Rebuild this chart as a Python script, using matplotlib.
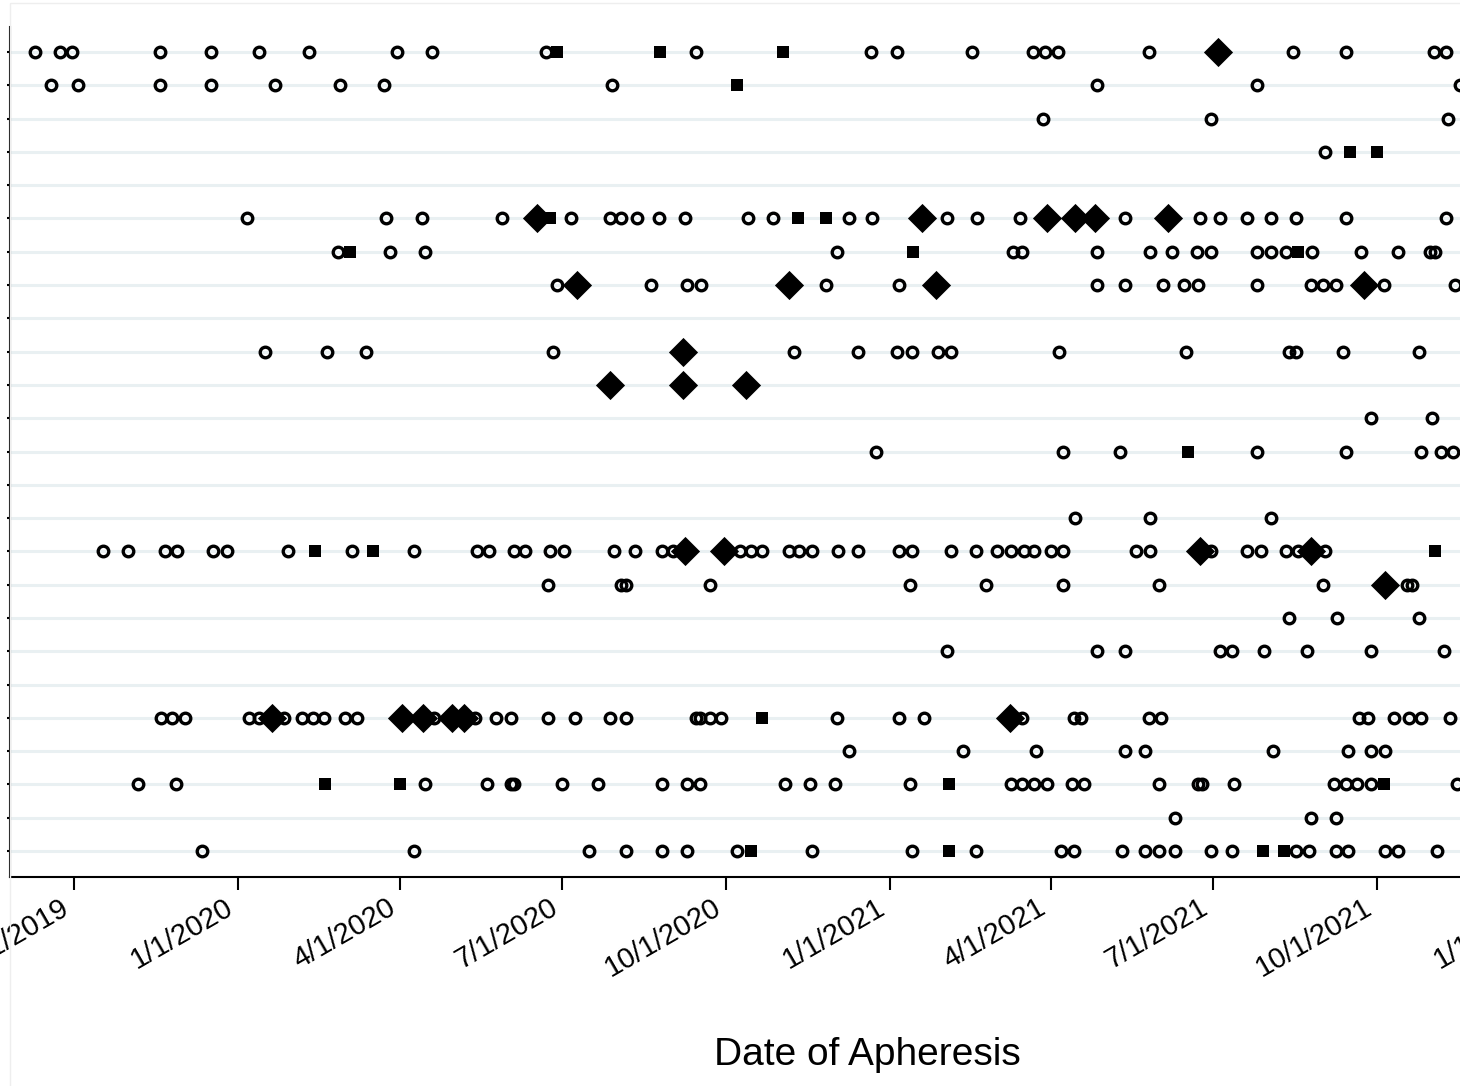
import matplotlib
matplotlib.use("Agg")
import matplotlib.pyplot as plt
from matplotlib.patches import Rectangle
import numpy as np

plt.rcParams["font.family"] = ["Liberation Sans", "DejaVu Sans"]

# dates are stored as days since 1 Jan 2020; one list per row, top to bottom
START = np.datetime64("2020-01-01")

circle_days = [
    [-114, -100, -93, -44, -15, 12, 40, 89, 109, 173, 257, 355, 370, 412, 446, 453, 460, 511, 592, 622, 671, 678],
    [-105, -90, -44, -15, 21, 57, 82, 210, 482, 572, 686],
    [452, 546, 679],
    [610],
    [],
    [5, 83, 103, 148, 187, 209, 215, 224, 236, 251, 286, 300, 343, 356, 398, 415, 439, 498, 540, 551, 566, 580,
     594, 622, 678],
    [56, 85, 105, 336, 435, 440, 482, 512, 524, 538, 546, 572, 580, 588, 603, 630, 651, 669, 672],
    [179, 232, 252, 260, 330, 371, 482, 498, 519, 531, 539, 572, 602, 609, 616, 643, 683],
    [],
    [15, 50, 72, 177, 312, 348, 370, 378, 393, 400, 461, 532, 590, 594, 620, 663],
    [],
    [636, 670],
    [358, 463, 495, 572, 622, 664, 675, 682],
    [],
    [470, 512, 580],
    [-76, -62, -41, -34, -14, -6, 28, 64, 99, 134, 141, 155, 161, 175, 183, 211, 223, 238, 244, 282, 288, 294,
     309, 315, 322, 337, 348, 371, 378, 400, 414, 426, 434, 441, 447, 456, 463, 504, 512, 546, 566, 574, 588,
     595, 610],
    [174, 215, 218, 265, 377, 420, 463, 517, 609, 656, 659],
    [590, 617, 663],
    [398, 482, 498, 551, 558, 576, 600, 636, 677],
    [],
    [-43, -37, -30, 6, 12, 26, 36, 42, 48, 60, 67, 110, 133, 145, 153, 174, 189, 209, 218, 257, 259, 265, 271,
     336, 371, 385, 440, 469, 473, 511, 518, 629, 634, 649, 657, 664, 680],
    [343, 407, 448, 498, 509, 581, 623, 636, 644],
    [-56, -35, 105, 140, 153, 155, 182, 202, 238, 252, 259, 307, 321, 335, 377, 434, 440, 447, 454, 468, 475,
     517, 539, 541, 559, 615, 622, 628, 636, 684],
    [526, 602, 616],
    [-20, 99, 197, 218, 238, 252, 280, 322, 378, 414, 462, 469, 496, 509, 517, 526, 546, 558, 594, 601, 616,
     623, 644, 651, 673],
]

square_days = [
    [179, 237, 306], [280], [], [624, 639], [],
    [175, 314, 330], [63, 379, 595], [], [], [],
    [], [], [533], [], [],
    [43, 76, 672], [], [], [], [],
    [294], [], [49, 91, 399, 643], [], [288, 399, 575, 587],
]

diamond_days = [
    [550], [], [], [], [],
    [168, 384, 454, 470, 481, 522], [], [190, 309, 392, 632], [], [250],
    [209, 250, 285], [], [], [], [],
    [251, 273, 540, 602], [644], [], [], [],
    [19, 92, 104, 120, 127, 433], [], [], [], [],
]

tick_dates = ["2019-10-01", "2020-01-01", "2020-04-01", "2020-07-01", "2020-10-01",
              "2021-01-01", "2021-04-01", "2021-07-01", "2021-10-01", "2022-01-01", "2022-04-01"]
x_title = "Date of Apheresis"


def to_dates(days):
    return START + np.array(days, dtype="timedelta64[D]")


W, H = 1460, 1086
fig = plt.figure(figsize=(W / 100, H / 100), dpi=100)
fig.patches.append(Rectangle((10 / W, -0.01), 1.0, (H - 3) / H + 0.01, transform=fig.transFigure,
                             fill=False, edgecolor="#eeeeee", lw=1))

# axes run past the right edge of the figure, as in the reference
ax = fig.add_axes([10 / W, 209 / H, 1714 / W, 850 / H])

n_rows = len(circle_days)
rows = np.arange(1, n_rows + 1)

diamond = [(0, 1), (1, 0), (0, -1), (-1, 0)]
for y, days in zip(rows, circle_days):
    if days:
        ax.plot(to_dates(days), [y] * len(days), linestyle="none", marker="o", ms=7.6,
                mfc="none", mec="black", mew=2.4, zorder=3)
for y, days in zip(rows, square_days):
    if days:
        ax.plot(to_dates(days), [y] * len(days), linestyle="none", marker="s", ms=9,
                color="black", mew=0, zorder=4)
for y, days in zip(rows, diamond_days):
    if days:
        ax.plot(to_dates(days), [y] * len(days), linestyle="none", marker=diamond, ms=21,
                color="black", mew=0, zorder=5)

ax.set_ylim(n_rows + 0.78, 0.25)
ax.set_yticks(rows)
ax.set_yticklabels([])
ax.grid(axis="y", color="#e9f0f2", lw=2.2)
ax.set_axisbelow(True)

ax.set_xlim(START - np.timedelta64(128, "D"), START + np.timedelta64(834, "D"))
ticks = np.array(tick_dates, dtype="datetime64[D]")
ax.set_xticks(ticks)
labels = []
for t in tick_dates:
    yy, mm, dd = t.split("-")
    labels.append(f"{int(mm)}/{int(dd)}/{yy}")
ax.set_xticklabels(labels, rotation=30, ha="right", fontsize=21)

ax.tick_params(axis="x", length=9.5, width=1.5, pad=2)
ax.tick_params(axis="y", length=2.5, width=1.5)
for side in ["top", "right"]:
    ax.spines[side].set_visible(False)
for side in ["left", "bottom"]:
    ax.spines[side].set_linewidth(1.5)

ax.set_xlabel(x_title, fontsize=28, va="baseline")
ax.xaxis.set_label_coords(0.5, -(1065 - 877) / 850)

fig.savefig("out.png", dpi=100)
